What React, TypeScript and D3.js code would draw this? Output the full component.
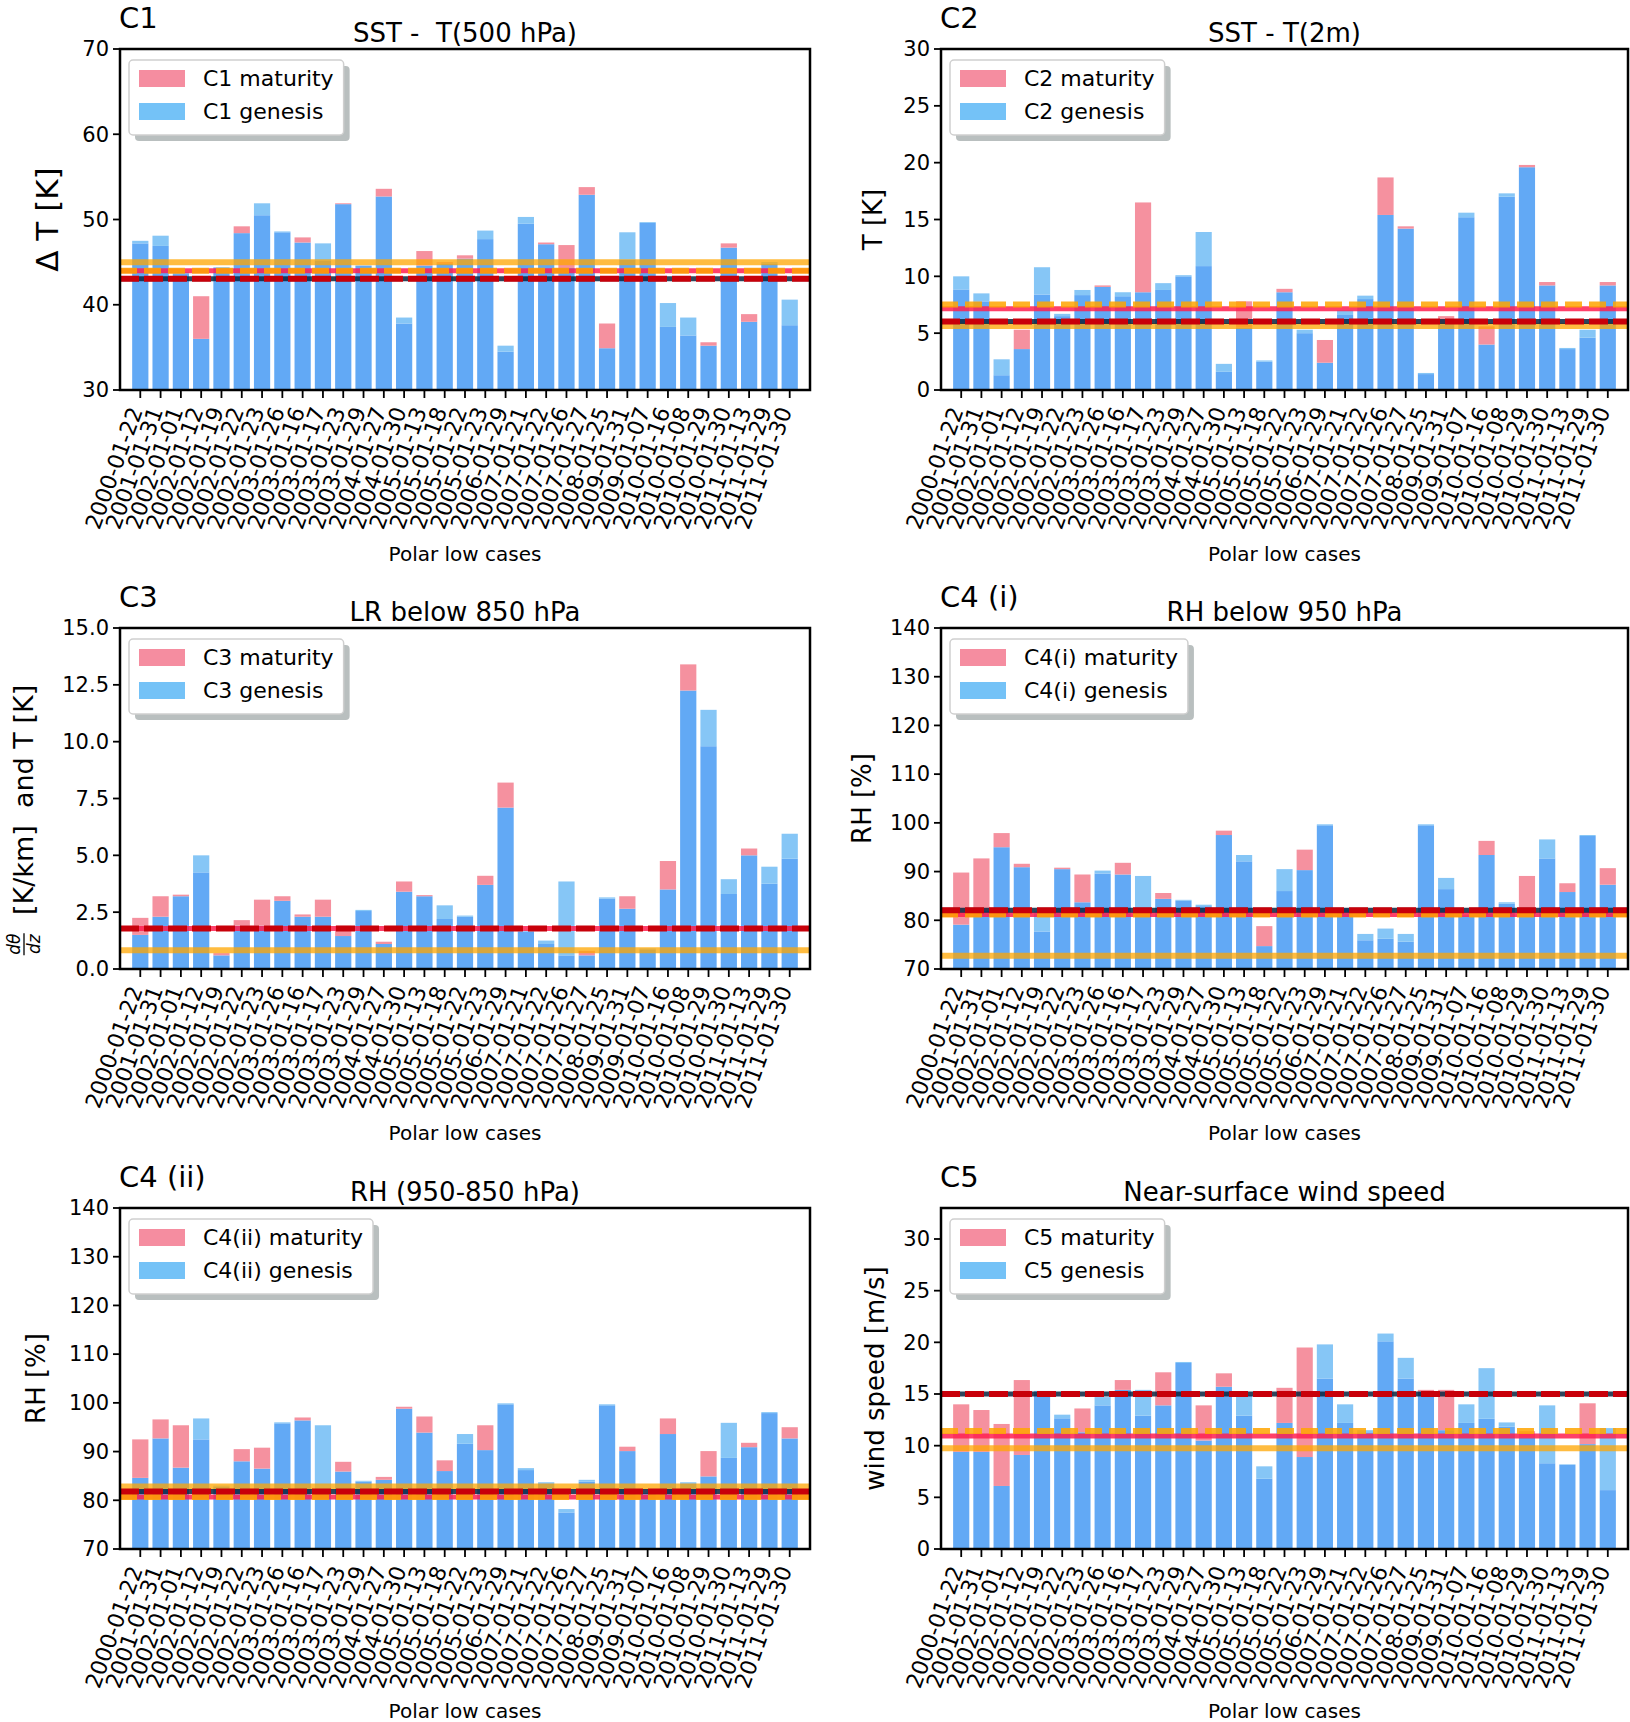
import { useEffect, useRef } from "react";
import * as d3 from "d3";

// polar low cases (x axis)
const cases = [
  "2000-01-22", "2001-01-31", "2002-01-01", "2002-01-12", "2002-01-19", "2002-01-22",
  "2002-01-23", "2003-01-26", "2003-01-16", "2003-01-17", "2003-01-23", "2003-01-29",
  "2004-01-27", "2004-01-30", "2005-01-13", "2005-01-18", "2005-01-22", "2005-01-23",
  "2006-01-29", "2007-01-21", "2007-01-22", "2007-01-26", "2007-01-27", "2008-01-25",
  "2009-01-31", "2009-01-07", "2010-01-16", "2010-01-08", "2010-01-29", "2010-01-30",
  "2011-01-13", "2011-01-29", "2011-01-30",
];

// C1: SST - T(500 hPa)
const c1Genesis = [47.5, 48.1, 43.8, 36.0, 44.4, 48.4, 51.9, 48.6, 47.3, 47.2, 51.8, 44.6, 52.7, 38.5, 44.6, 44.8, 45.4, 48.7, 35.2, 50.3, 47.1, 44.3, 52.9, 34.9, 48.5, 49.7, 40.2, 38.5, 35.2, 46.7, 38.0, 45.0, 40.6];
const c1Maturity = [47.2, 46.9, 43.6, 41.0, 44.3, 49.2, 50.5, 48.5, 47.9, 45.2, 51.9, 44.6, 53.6, 37.8, 46.3, 45.0, 45.8, 47.7, 34.5, 49.5, 47.3, 47.0, 53.8, 37.8, 45.3, 49.6, 37.4, 36.4, 35.6, 47.2, 38.9, 44.8, 37.6];

// C2: SST - T(2m)
const c2Genesis = [10.0, 8.5, 2.7, 3.6, 10.8, 6.7, 8.8, 9.07, 8.6, 8.6, 9.4, 10.1, 13.9, 2.3, 5.5, 2.6, 8.6, 5.3, 2.4, 7.0, 8.3, 15.4, 14.2, 1.5, 5.8, 15.6, 4.0, 17.3, 19.6, 9.2, 3.7, 5.3, 9.2];
const c2Maturity = [8.85, 7.8, 1.3, 5.3, 8.4, 6.5, 8.35, 9.2, 8.25, 16.5, 8.8, 10.0, 10.9, 1.6, 7.8, 2.5, 8.9, 5.0, 4.4, 6.6, 8.0, 18.7, 14.4, 1.4, 6.5, 15.2, 5.6, 17.0, 19.8, 9.5, 3.6, 4.6, 9.5];

// C3: LR below 850 hPa
const c3Genesis = [1.5, 2.3, 3.2, 5.0, 0.6, 1.9, 1.9, 3.0, 2.3, 2.3, 1.45, 2.6, 1.1, 3.4, 3.2, 2.8, 2.35, 3.7, 7.1, 1.7, 1.25, 3.85, 0.6, 3.15, 2.65, 0.9, 3.5, 12.25, 11.4, 3.95, 5.0, 4.5, 5.95];
const c3Maturity = [2.25, 3.2, 3.27, 4.25, 0.7, 2.15, 3.05, 3.2, 2.4, 3.05, 1.9, 2.55, 1.2, 3.85, 3.25, 2.2, 2.3, 4.1, 8.2, 1.65, 1.1, 0.6, 0.8, 3.1, 3.2, 0.85, 4.75, 13.4, 9.8, 3.3, 5.3, 3.75, 4.85];

// C4(i): RH below 950 hPa
const c4iGenesis = [79.1, 82.0, 95.0, 90.9, 81.8, 90.5, 83.7, 90.2, 89.4, 89.1, 84.4, 84.2, 83.2, 97.5, 93.4, 74.7, 90.5, 90.3, 99.7, 82.5, 77.2, 78.3, 77.2, 99.7, 88.7, 81.0, 93.4, 83.7, 81.9, 96.6, 85.8, 97.5, 87.3];
const c4iMaturity = [89.8, 92.7, 97.9, 91.6, 77.7, 90.8, 89.4, 89.6, 91.8, 82.3, 85.6, 84.0, 82.9, 98.4, 92.1, 78.8, 86.0, 94.5, 99.5, 82.3, 75.9, 76.2, 75.6, 99.5, 86.4, 80.8, 96.3, 83.4, 89.1, 92.7, 87.6, 97.3, 90.7];

// C4(ii): RH (950-850 hPa)
const c4iiGenesis = [84.6, 92.7, 86.7, 96.8, 83.0, 88.0, 86.5, 96.0, 96.4, 95.4, 85.9, 84.0, 84.2, 98.8, 93.9, 86.0, 93.6, 90.3, 99.9, 86.6, 83.7, 78.2, 84.2, 99.7, 90.1, 81.5, 93.6, 83.7, 84.9, 95.9, 90.9, 98.1, 92.7];
const c4iiMaturity = [92.5, 96.6, 95.4, 92.5, 82.8, 90.5, 90.8, 95.8, 97.0, 82.0, 87.9, 83.8, 84.8, 99.2, 97.2, 88.2, 91.6, 95.4, 99.7, 86.2, 83.5, 77.5, 83.8, 99.5, 91.0, 81.3, 96.8, 83.5, 90.1, 88.7, 91.8, 97.9, 95.0];

// C5: near-surface wind speed
const c5Genesis = [9.4, 9.4, 6.1, 9.1, 15.3, 13.0, 11.3, 14.7, 15.4, 15.4, 13.9, 18.1, 10.5, 15.7, 14.9, 8.0, 12.2, 8.9, 19.8, 14.0, 11.5, 20.85, 18.5, 15.2, 11.5, 14.0, 17.5, 12.25, 10.8, 13.9, 8.2, 10.15, 11.7];
const c5Maturity = [14.0, 13.45, 12.1, 16.35, 15.0, 12.65, 13.6, 13.9, 16.35, 12.9, 17.1, 18.0, 13.9, 17.0, 12.9, 6.8, 15.6, 19.5, 16.5, 12.2, 11.3, 20.1, 16.5, 15.4, 15.4, 12.2, 12.6, 11.85, 11.4, 8.3, 8.15, 14.1, 5.7];

// horizontal reference lines, one value per panel (C1, C2, C3, C4(i), C4(ii), C5)
const lineOrange = [45.0, 5.62, 0.83, 72.7, 82.83, 9.75];
const lineOrangeDashed = [44.0, 7.53, null, 81.17, 80.65, 11.42];
const lineCrimson = [44.0, 7.14, 1.78, 81.17, 80.65, 10.94];
const lineRedDashed = [43.05, 6.03, 1.78, 82.05, 81.8, 15.0];
const lineNavy = [43.05, 6.03, null, 82.05, 81.8, 15.0];

// y ticks
const c1Ticks = [30, 40, 50, 60, 70];
const c2Ticks = [0, 5, 10, 15, 20, 25, 30];
const c3Ticks = [0, 2.5, 5, 7.5, 10, 12.5, 15];
const c4Ticks = [70, 80, 90, 100, 110, 120, 130, 140];
const c5Ticks = [0, 5, 10, 15, 20, 25, 30];

const FONT = "DejaVu Sans, sans-serif";
const W = 1630;
const H = 1722;
const colLeft = [120, 941];
const colWidth = [690, 687];
const rowTop = [49, 628, 1208];
const plotH = 341;

const BOTH = "#62a9f5";
const GEN_ONLY = "#86c6f6";
const MAT_ONLY = "#f5919f";

const panels = [
  { tag: "C1", title: "SST -  T(500 hPa)", ylabel: "Δ T [K]", ySize: 31, yOff: 73, col: 0, row: 0, g: c1Genesis, m: c1Maturity, domain: [30, 70], ticks: c1Ticks, fmt: (d: number) => `${d}`, legend: ["C1 maturity", "C1 genesis"] },
  { tag: "C2", title: "SST - T(2m)", ylabel: "T [K]", ySize: 26, yOff: 68, col: 1, row: 0, g: c2Genesis, m: c2Maturity, domain: [0, 30], ticks: c2Ticks, fmt: (d: number) => `${d}`, legend: ["C2 maturity", "C2 genesis"] },
  { tag: "C3", title: "LR below 850 hPa", ylabel: "frac", ySize: 27, yOff: 96, col: 0, row: 1, g: c3Genesis, m: c3Maturity, domain: [0, 15], ticks: c3Ticks, fmt: (d: number) => d.toFixed(1), legend: ["C3 maturity", "C3 genesis"] },
  { tag: "C4 (i)", title: "RH below 950 hPa", ylabel: "RH [%]", ySize: 26, yOff: 79, col: 1, row: 1, g: c4iGenesis, m: c4iMaturity, domain: [70, 140], ticks: c4Ticks, fmt: (d: number) => `${d}`, legend: ["C4(i) maturity", "C4(i) genesis"] },
  { tag: "C4 (ii)", title: "RH (950-850 hPa)", ylabel: "RH [%]", ySize: 26, yOff: 84, col: 0, row: 2, g: c4iiGenesis, m: c4iiMaturity, domain: [70, 140], ticks: c4Ticks, fmt: (d: number) => `${d}`, legend: ["C4(ii) maturity", "C4(ii) genesis"] },
  { tag: "C5", title: "Near-surface wind speed", ylabel: "wind speed [m/s]", ySize: 26, yOff: 66, col: 1, row: 2, g: c5Genesis, m: c5Maturity, domain: [0, 33], ticks: c5Ticks, fmt: (d: number) => `${d}`, legend: ["C5 maturity", "C5 genesis"] },
];

export default function App() {
  const svgRef = useRef<SVGSVGElement>(null);

  useEffect(() => {
    if (!svgRef.current) return;
    const svg = d3.select(svgRef.current);
    svg.selectAll("*").remove();
    svg.append("rect").attr("width", W).attr("height", H).attr("fill", "#fff");

    panels.forEach((p, pi) => {
      const left = colLeft[p.col];
      const width = colWidth[p.col];
      const top = rowTop[p.row];
      const bottom = top + plotH;

      const x = d3
        .scaleBand<number>()
        .domain(d3.range(cases.length))
        .range([left, left + width])
        .paddingInner(0.2)
        .paddingOuter(0.6);
      const y = d3.scaleLinear().domain(p.domain).range([bottom, top]);
      const g = svg.append("g");

      // bars: overlap part in mid blue, excess in pink (maturity) or light blue (genesis)
      cases.forEach((_, i) => {
        const gv = p.g[i];
        const mv = p.m[i];
        const lo = Math.min(gv, mv);
        const hi = Math.max(gv, mv);
        g.append("rect")
          .attr("x", x(i)!)
          .attr("width", x.bandwidth())
          .attr("y", y(lo))
          .attr("height", y(p.domain[0]) - y(lo))
          .attr("fill", BOTH);
        if (hi > lo) {
          g.append("rect")
            .attr("x", x(i)!)
            .attr("width", x.bandwidth())
            .attr("y", y(hi))
            .attr("height", y(lo) - y(hi))
            .attr("fill", mv > gv ? MAT_ONLY : GEN_ONLY);
        }
      });

      const hline = (v: number | null, stroke: string, sw: number, op: number, dash?: string) => {
        if (v == null) return;
        g.append("line")
          .attr("x1", left)
          .attr("x2", left + width)
          .attr("y1", y(v))
          .attr("y2", y(v))
          .attr("stroke", stroke)
          .attr("stroke-width", sw)
          .attr("stroke-opacity", op)
          .attr("stroke-dasharray", dash ?? null);
      };
      hline(lineOrange[pi], "#ffa500", 6, 0.75);
      hline(lineCrimson[pi], "#ff1f4f", 5, 0.85);
      hline(lineOrangeDashed[pi], "#ffa500", 6, 0.85, "17 7");
      hline(lineNavy[pi], "#0b2540", 5, 0.85);
      hline(lineRedDashed[pi], "#c8000a", 6, 1, "19 5");

      // frame
      g.append("rect")
        .attr("x", left)
        .attr("y", top)
        .attr("width", width)
        .attr("height", plotH)
        .attr("fill", "none")
        .attr("stroke", "#000")
        .attr("stroke-width", 2.5);

      // y ticks
      p.ticks.forEach((t) => {
        g.append("line")
          .attr("x1", left - 7)
          .attr("x2", left)
          .attr("y1", y(t))
          .attr("y2", y(t))
          .attr("stroke", "#000")
          .attr("stroke-width", 1.8);
        g.append("text")
          .attr("x", left - 11)
          .attr("y", y(t))
          .attr("dy", "0.35em")
          .attr("text-anchor", "end")
          .attr("font-family", FONT)
          .attr("font-size", 21)
          .text(p.fmt(t));
      });

      // x ticks and rotated case labels
      cases.forEach((c, i) => {
        const cx = x(i)! + x.bandwidth() / 2;
        g.append("line")
          .attr("x1", cx)
          .attr("x2", cx)
          .attr("y1", bottom)
          .attr("y2", bottom + 8)
          .attr("stroke", "#000")
          .attr("stroke-width", 1.8);
        g.append("text")
          .attr("transform", `translate(${cx - 4.6},${bottom + 18}) rotate(-70)`)
          .attr("dy", "0.35em")
          .attr("text-anchor", "end")
          .attr("font-family", FONT)
          .attr("font-size", 22)
          .text(c);
      });

      g.append("text")
        .attr("x", left + width / 2)
        .attr("y", Math.min(bottom + 171, H - 4))
        .attr("text-anchor", "middle")
        .attr("font-family", FONT)
        .attr("font-size", 20)
        .text("Polar low cases");

      // panel tag and title
      g.append("text")
        .attr("x", left - 1)
        .attr("y", top - 21)
        .attr("font-family", FONT)
        .attr("font-size", 29)
        .text(p.tag);
      g.append("text")
        .attr("x", left + width / 2)
        .attr("y", top - 7)
        .attr("text-anchor", "middle")
        .attr("font-family", FONT)
        .attr("font-size", 26)
        .style("white-space", "pre")
        .text(p.title);

      // y label
      const ly = left - p.yOff;
      if (p.ylabel === "frac") {
        const yl = g.append("g").attr("transform", `translate(${ly},${top + plotH / 2 + 22}) rotate(-90)`);
        const main = yl
          .append("text")
          .attr("font-family", FONT)
          .attr("font-size", p.ySize)
          .attr("dy", "0.35em")
          .style("white-space", "pre")
          .text("  [K/km]  and T [K]");
        const mw = (main.node() as SVGTextElement).getComputedTextLength();
        const fw = 24;
        const start = -(fw + mw) / 2;
        main.attr("x", start + fw);
        yl.append("text").attr("x", start + fw / 2).attr("y", -4).attr("text-anchor", "middle").attr("font-family", FONT).attr("font-size", 17).attr("font-style", "italic").text("dθ");
        yl.append("text").attr("x", start + fw / 2).attr("y", 16).attr("text-anchor", "middle").attr("font-family", FONT).attr("font-size", 17).attr("font-style", "italic").text("dz");
        yl.append("line").attr("x1", start + 1).attr("x2", start + fw - 1).attr("y1", 0).attr("y2", 0).attr("stroke", "#000").attr("stroke-width", 1.3);
      } else {
        g.append("text")
          .attr("transform", `translate(${ly},${top + plotH / 2}) rotate(-90)`)
          .attr("dy", "0.35em")
          .attr("text-anchor", "middle")
          .attr("font-family", FONT)
          .attr("font-size", p.ySize)
          .text(p.ylabel);
      }

      // legend with shadow
      const lx = left + 9;
      const lyTop = top + 11;
      const lg = g.append("g");
      const shadow = lg.append("rect").attr("x", lx + 6).attr("y", lyTop + 6).attr("height", 75).attr("rx", 4).attr("fill", "#7f8a8a").attr("opacity", 0.55);
      const box = lg.append("rect").attr("x", lx).attr("y", lyTop).attr("height", 75).attr("rx", 4).attr("fill", "#fff").attr("stroke", "#cfcfcf").attr("stroke-width", 1.5);
      lg.append("rect").attr("x", lx + 10).attr("y", lyTop + 10).attr("width", 46).attr("height", 17).attr("fill", "#f58da0");
      lg.append("rect").attr("x", lx + 10).attr("y", lyTop + 43).attr("width", 46).attr("height", 17).attr("fill", "#74c2f7");
      let tw = 0;
      p.legend.forEach((t, k) => {
        const tx = lg
          .append("text")
          .attr("x", lx + 74)
          .attr("y", lyTop + 26 + k * 33)
          .attr("font-family", FONT)
          .attr("font-size", 22)
          .text(t);
        tw = Math.max(tw, (tx.node() as SVGTextElement).getComputedTextLength());
      });
      shadow.attr("width", 74 + tw + 10);
      box.attr("width", 74 + tw + 10);
    });
  }, []);

  return (
    <svg
      ref={svgRef}
      width={W}
      height={H}
      style={{ position: "absolute", left: 0, top: 0, background: "#fff" }}
    />
  );
}
